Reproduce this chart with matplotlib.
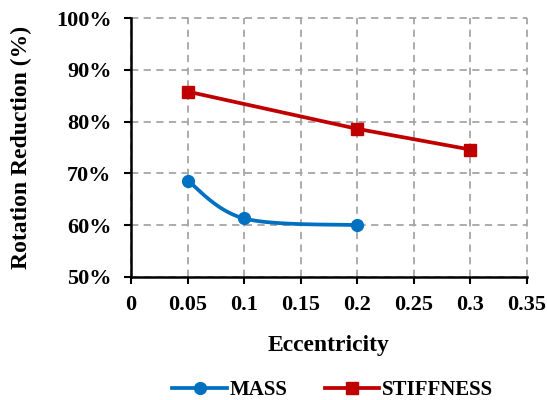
import numpy as np
import matplotlib
matplotlib.use("Agg")
import matplotlib.pyplot as plt
from matplotlib.ticker import FuncFormatter, MultipleLocator
from matplotlib.lines import Line2D

# Data
mass_x = [0.05, 0.1, 0.2]
mass_y = [68.6, 61.3, 60.0]
stiff_x = [0.05, 0.2, 0.3]
stiff_y = [85.8, 78.6, 74.6]
series_names = ["MASS", "STIFFNESS"]
x_label = "Eccentricity"
y_label = "Rotation Reduction (%)"

BLUE = "#0070C0"
RED = "#C00000"

plt.rcParams['font.family'] = ['Liberation Serif', 'DejaVu Serif']
plt.rcParams['font.weight'] = 'bold'


def smooth(xs, ys, n=40):
    # Excel-like smoothed line: Catmull-Rom Bezier through the data points
    P = np.column_stack([xs, ys]).astype(float)
    pts = [P[0]] + list(P) + [P[-1]]
    out = []
    t = np.linspace(0, 1, n)[:, None]
    for i in range(1, len(pts) - 2):
        p0, p1, p2, p3 = pts[i - 1], pts[i], pts[i + 1], pts[i + 2]
        c1 = p1 + (p2 - p0) / 6.0
        c2 = p2 - (p3 - p1) / 6.0
        seg = ((1 - t) ** 3) * p1 + 3 * ((1 - t) ** 2) * t * c1 + 3 * (1 - t) * t ** 2 * c2 + t ** 3 * p2
        out.append(seg if i == 1 else seg[1:])
    out = np.vstack(out)
    return out[:, 0], out[:, 1]


fig = plt.figure(figsize=(5.47, 4.0), dpi=100)
ax = fig.add_axes([131 / 547, 1 - 277 / 400, (527 - 131) / 547, (277 - 18) / 400])

sx, sy = smooth(mass_x, mass_y)
ax.plot(sx, sy, color=BLUE, lw=2.7, zorder=3, solid_capstyle='round')
ax.plot(mass_x, mass_y, 'o', color=BLUE, ms=8.5, zorder=4)
ax.plot(stiff_x, stiff_y, '-s', color=RED, lw=2.7, ms=8.5, zorder=3)

ax.set_xlim(0, 0.35)
ax.set_ylim(50, 100)
ax.xaxis.set_major_locator(MultipleLocator(0.05))
ax.yaxis.set_major_locator(MultipleLocator(10))
ax.xaxis.set_major_formatter(FuncFormatter(lambda v, p: "0" if abs(v) < 1e-9 else f"{v:.2f}".rstrip('0')))
ax.yaxis.set_major_formatter(FuncFormatter(lambda v, p: f"{v:.0f}%"))

ax.grid(True, color="#a6a6a6", ls=(0, (4, 3)), lw=1.3, zorder=1, clip_on=False)
for s in ['top', 'right']:
    ax.spines[s].set_visible(False)
for s in ['left', 'bottom']:
    ax.spines[s].set_linewidth(1.8)
    ax.spines[s].set_color('black')
    ax.spines[s].set_zorder(5)

ax.tick_params(axis='both', direction='out', length=5, width=1.5, color='black', labelsize=16)
ax.tick_params(axis='y', pad=9)
ax.tick_params(axis='x', pad=8)
for lab in ax.get_xticklabels() + ax.get_yticklabels():
    lab.set_fontweight('bold')

ax.set_xlabel(x_label, fontsize=17, fontweight='bold')
ax.set_ylabel(y_label, fontsize=17, fontweight='bold')
ax.yaxis.set_label_coords(-(131 - 32) / 396, 0.5)
ax.xaxis.set_label_coords(0.5, -(335 - 277) / 259)

handles = [
    Line2D([], [], color=BLUE, lw=2.7, marker='o', ms=8.5),
    Line2D([], [], color=RED, lw=2.7, marker='s', ms=8.5),
]
leg = fig.legend(handles, series_names, loc='center', bbox_to_anchor=(333 / 547, 1 - 390 / 400),
                 ncol=2, frameon=False, handlelength=2.6, handletextpad=0.15,
                 columnspacing=1.8, prop={'size': 15, 'weight': 'bold'})

fig.savefig("out.png", dpi=100)
